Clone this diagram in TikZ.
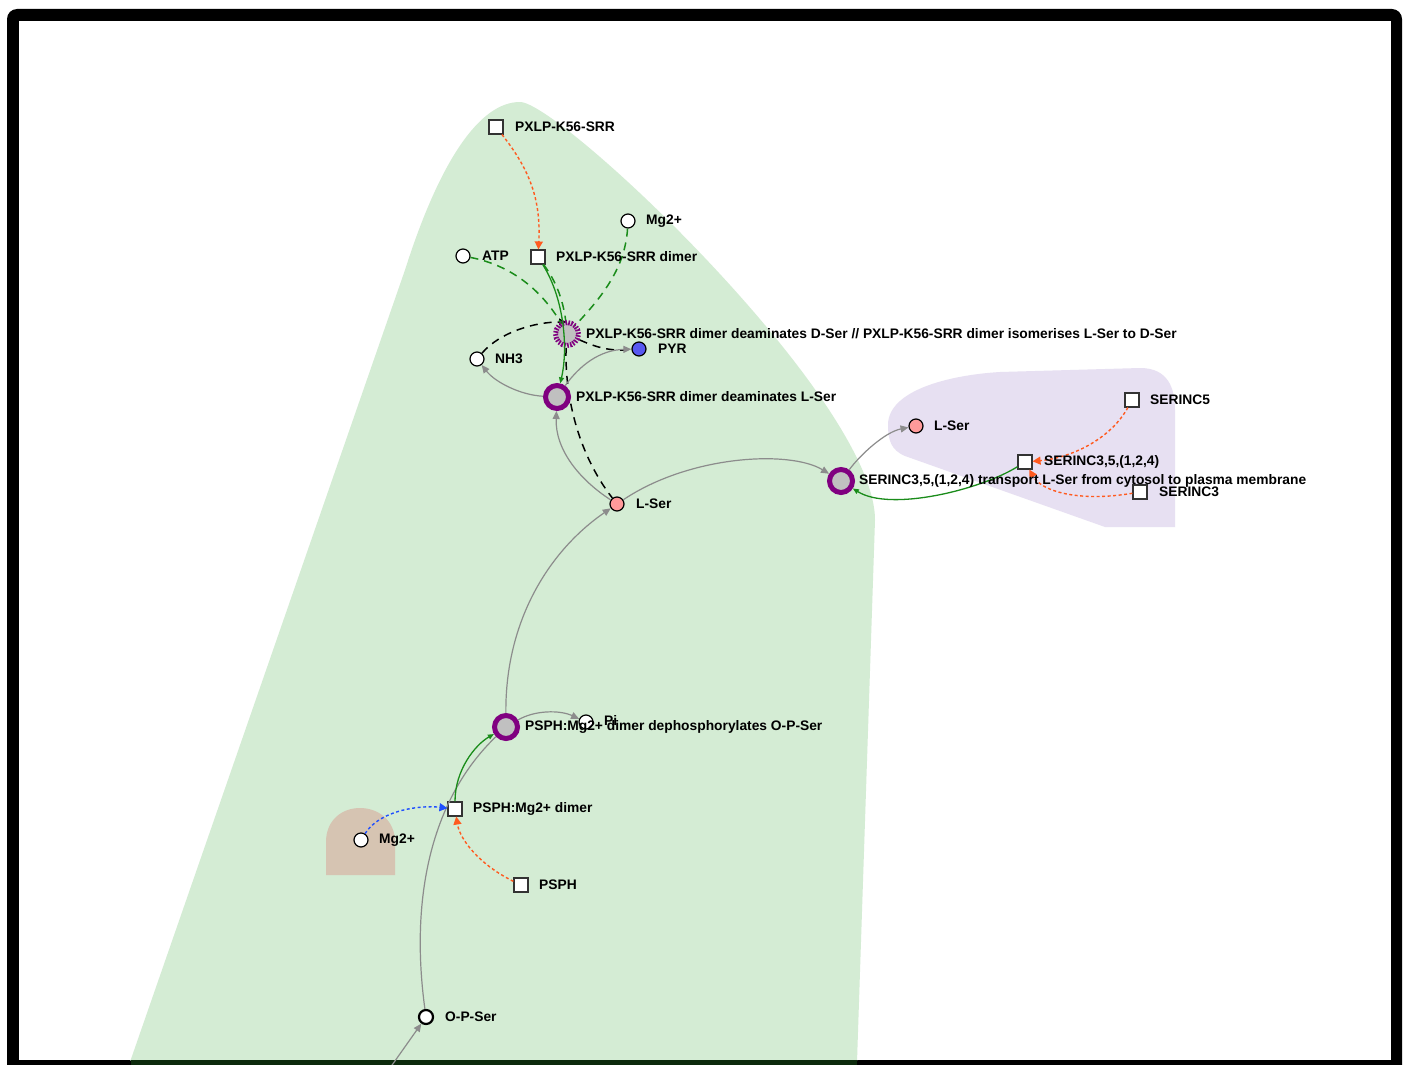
\documentclass[tikz,border=0pt]{standalone}
\usepackage{fontspec}
\setmainfont{Liberation Sans}
\usetikzlibrary{arrows.meta}
\definecolor{greenbg}{HTML}{D4ECD4}
\definecolor{purplebg}{HTML}{E7E0F2}
\definecolor{tanbg}{HTML}{D6C4B2}
\definecolor{darkgr}{HTML}{0C2A0C}
\definecolor{rxring}{HTML}{800080}
\definecolor{rxfill}{HTML}{C0C0C0}
\definecolor{orn}{HTML}{FF5A1F}
\definecolor{grn}{HTML}{1A8C1A}
\definecolor{gry}{HTML}{8C8C8C}
\definecolor{pinkn}{HTML}{FF9A9A}
\definecolor{bluen}{HTML}{5858F0}
\definecolor{bluel}{HTML}{1F4FFF}
\tikzset{
  lbl/.style={anchor=west, font=\bfseries\fontsize{13.8}{15}\selectfont, inner sep=0pt},
  sq/.style={draw=black!80, fill=white, line width=1.1pt, minimum size=14pt, inner sep=0pt},
  cir/.style={circle, draw=black, fill=white, line width=1.2pt, minimum size=14pt, inner sep=0pt},
  rx/.style={circle, draw=rxring, fill=rxfill, line width=5pt, minimum size=23pt, inner sep=0pt},
  rxd/.style={circle, draw=rxring, fill=rxfill, line width=5pt, minimum size=23pt, inner sep=0pt, dash pattern=on 1.6pt off 1.4pt},
  garr/.style={draw=gry, line width=1.2pt, -{Triangle[length=8pt,width=7pt]}},
  gline/.style={draw=gry, line width=1.2pt},
  grsol/.style={draw=grn, line width=1.3pt, -{Triangle[length=6pt,width=5pt]}},
  grdash/.style={draw=grn, line width=1.5pt, dash pattern=on 8pt off 6pt},
  bkdash/.style={draw=black, line width=1.5pt, dash pattern=on 8pt off 6pt},
  orarr/.style={draw=orn, line width=1.4pt, dash pattern=on 3pt off 2.5pt, -{Triangle[length=8pt,width=8pt]}},
  blarr/.style={draw=bluel, line width=1.4pt, dash pattern=on 3pt off 2.5pt, -{Triangle[length=8pt,width=8pt]}}
}
\begin{document}
\begin{tikzpicture}[x=1pt,y=-1pt]
\useasboundingbox (0,0) rectangle (1406,1065);
\clip (0,0) rectangle (1406,1065);
% frame
\fill[black, rounded corners=10pt] (7,9) rectangle (1402,1090);
\fill[white] (19,21) rectangle (1391,1060);
% compartments
\begin{scope}
\clip (19,21) rectangle (1391,1060);
\fill[greenbg] (130,1062) -- (405,270) .. controls (440,160) and (480,102) .. (520,102)
  .. controls (560,102) and (875,400) .. (875,520) -- (857,1062) -- cycle;
\end{scope}
\fill[darkgr] (131,1060) rectangle (857,1066);
\fill[purplebg] (888,425) .. controls (888,390) and (950,375) .. (1000,372) -- (1140,368)
  .. controls (1168,368) and (1175,388) .. (1175,410) -- (1175,527) -- (1105,527)
  -- (905,456) .. controls (891,450) and (888,440) .. (888,425) -- cycle;
\fill[tanbg] (326,875) -- (326,842) .. controls (326,820) and (342,808) .. (360,808)
  .. controls (378,808) and (395,820) .. (395,842) -- (395,875) -- cycle;

% coordinates and nodes
\coordinate (opin) at (390,1068);
\node[sq] (pxlp) at (496,127) {};
\node[sq] (dimer) at (538,257) {};
\node[cir] (atp) at (463,256) {};
\node[cir] (mga) at (628,221) {};
\node[cir] (nh3) at (477,359) {};
\node[cir, fill=bluen] (pyr) at (639,349) {};
\node[cir, fill=pinkn] (lser1) at (617,504) {};
\node[cir, fill=pinkn] (lser2) at (916,426) {};
\node[sq] (serinc5) at (1132,400) {};
\node[sq] (serinc) at (1025,462) {};
\node[sq] (serinc3) at (1140,492) {};
\node[cir] (pi) at (586,722) {};
\node[sq] (psphd) at (455,809) {};
\node[cir] (mgb) at (361,840) {};
\node[sq] (psph) at (521,885) {};
\node[cir, line width=2.2pt] (opser) at (426,1017) {};
\coordinate (r1c) at (567,334);
\coordinate (r2c) at (557,397);

% edges behind reactions
\draw[bkdash] (r1c) .. controls (562,385) and (575,450) .. (lser1);
\draw[bkdash, -{Triangle[length=7pt,width=7pt]}] (nh3) .. controls (500,332) and (535,322) .. (566,322);
\draw[bkdash] (r1c) .. controls (590,345) and (605,352) .. (pyr);
\draw[grdash] (atp) .. controls (510,265) and (545,290) .. (r1c);
\draw[grdash] (mga) .. controls (625,270) and (600,300) .. (r1c);
\draw[grdash] (dimer) .. controls (555,280) and (565,300) .. (r1c);

\node[rxd] (r1) at (r1c) {};
\node[rx] (r2) at (r2c) {};
\node[rx] (r3) at (841,481) {};
\node[rx] (r4) at (506,727) {};

\draw[grsol] (dimer) .. controls (565,300) and (568,350) .. (r2);
\draw[garr] (r2) .. controls (520,395) and (495,382) .. (nh3);
\draw[garr] (r2) .. controls (580,365) and (600,350) .. (pyr);
\draw[garr] (lser1) .. controls (580,480) and (555,450) .. (r2);
\draw[garr] (lser1) .. controls (690,455) and (790,450) .. (r3);
\draw[garr] (r3) .. controls (860,455) and (885,432) .. (lser2);
\draw[grsol] (serinc) .. controls (980,490) and (890,512) .. (r3);
\draw[orarr] (serinc5) .. controls (1110,440) and (1070,458) .. (serinc);
\draw[orarr] (serinc3) .. controls (1080,502) and (1042,492) .. (serinc);
\draw[orarr] (pxlp) .. controls (530,170) and (541,200) .. (dimer);
\draw[garr] (r4) .. controls (505,620) and (550,550) .. (lser1);
\draw[garr] (r4) .. controls (535,710) and (560,710) .. (pi);
\draw[gline] (opser) .. controls (410,900) and (430,800) .. (r4);
\draw[garr] (opin) -- (opser);
\draw[grsol] (psphd) .. controls (455,770) and (475,745) .. (r4);
\draw[blarr] (mgb) .. controls (380,810) and (420,805) .. (psphd);
\draw[orarr] (psph) .. controls (480,865) and (460,840) .. (psphd);

% labels
\node[lbl] (pxlpL) at (515,127) {PXLP-K56-SRR};
\node[lbl] (dimerL) at (556,257) {PXLP-K56-SRR dimer};
\node[lbl] (atpL) at (482,256) {ATP};
\node[lbl] (mgaL) at (646,221) {Mg2+};
\node[lbl] (r1L) at (586,334) {PXLP-K56-SRR dimer deaminates D-Ser // PXLP-K56-SRR dimer isomerises L-Ser to D-Ser};
\node[lbl] (nh3L) at (495,359) {NH3};
\node[lbl] (pyrL) at (658,349) {PYR};
\node[lbl] (r2L) at (576,397) {PXLP-K56-SRR dimer deaminates L-Ser};
\node[lbl] (lser1L) at (636,504) {L-Ser};
\node[lbl] (lser2L) at (934,426) {L-Ser};
\node[lbl] (serinc5L) at (1150,400) {SERINC5};
\node[lbl] (serincL) at (1044,462) {SERINC3,5,(1,2,4)};
\node[lbl] (serinc3L) at (1159,492) {SERINC3};
\node[lbl] (r3L) at (859,481) {SERINC3,5,(1,2,4) transport L-Ser from cytosol to plasma membrane};
\node[lbl] (piL) at (604,720) {Pi};
\node[lbl] (r4L) at (525,727) {PSPH:Mg2+ dimer dephosphorylates O-P-Ser};
\node[lbl] (psphdL) at (473,809) {PSPH:Mg2+ dimer};
\node[lbl] (mgbL) at (379,840) {Mg2+};
\node[lbl] (psphL) at (539,885) {PSPH};
\node[lbl] (opserL) at (445,1017) {O-P-Ser};
\end{tikzpicture}
\end{document}
